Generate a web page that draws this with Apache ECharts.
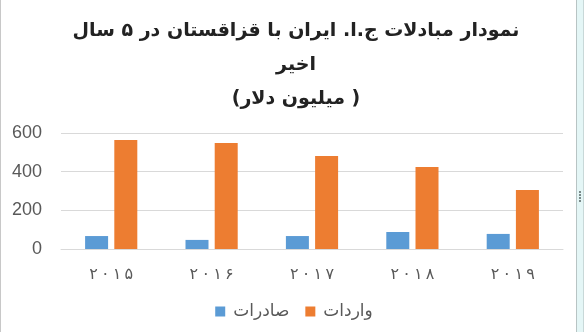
<!DOCTYPE html>
<html>
<head>
<meta charset="utf-8">
<script src="https://cdn.jsdelivr.net/npm/echarts@6/dist/echarts.min.js"></script>
<style>
html,body{margin:0;padding:0;background:#fff;}
#chart{position:absolute;left:0;top:0;width:588px;height:332px;}
#lb{position:absolute;left:0;top:0;width:1px;height:332px;background:#c8c8c8;}
#rb{position:absolute;left:576px;top:0;width:1px;height:332px;background:#b8c4c4;}
#rs{position:absolute;left:577px;top:0;width:6px;height:332px;background:#e4f6f6;}
#rs2{position:absolute;left:583px;top:0;width:1px;height:332px;background:#c8d8d8;}
.dot{position:absolute;left:579px;width:2px;height:2px;background:#7a8a8a;}
</style>
</head>
<body>
<div id="chart"></div>
<div id="lb"></div><div id="rb"></div><div id="rs"></div><div id="rs2"></div>
<div class="dot" style="top:191px"></div><div class="dot" style="top:194px"></div><div class="dot" style="top:197px"></div><div class="dot" style="top:200px"></div>
<script>
var titleLines = ['نمودار مبادلات ج.ا. ایران با قزاقستان در ۵ سال', 'اخیر', '(میلیون دلار )'];
var categories = ['۲۰۱۵', '۲۰۱۶', '۲۰۱۷', '۲۰۱۸', '۲۰۱۹'];
var seriesNames = ['صادرات', 'واردات'];
var exportsData = [67, 47, 67, 88, 78];
var importsData = [564, 548, 481, 424, 305];
var yTicks = {min: 0, max: 600, interval: 200};

var chart = echarts.init(document.getElementById('chart'));
chart.setOption({
  animation: false,
  title: {
    text: titleLines.join('\n'),
    left: 291, top: 9, textAlign: 'center',
    textStyle: {fontFamily: 'DejaVu Sans', fontWeight: 'bold', fontSize: 19, lineHeight: 34, color: '#222'}
  },
  legend: {
    data: seriesNames,
    bottom: 7, left: 'center',
    itemWidth: 10, itemHeight: 10, itemGap: 16,
    icon: 'rect',
    textStyle: {fontFamily: 'DejaVu Sans', fontSize: 17, color: '#595959', padding: [0, 0, 0, 3]}
  },
  grid: {left: 61, right: 25, top: 133, bottom: 83},
  xAxis: {
    type: 'category', data: categories,
    axisLine: {lineStyle: {color: '#d9d9d9'}},
    axisTick: {show: false},
    axisLabel: {
      margin: 18, fontFamily: 'DejaVu Sans', fontSize: 16, color: '#595959',
      formatter: function (v) { return v.split('').join('\u2009'); }
    }
  },
  yAxis: {
    type: 'value', min: yTicks.min, max: yTicks.max, interval: yTicks.interval,
    axisLine: {show: false}, axisTick: {show: false},
    splitLine: {lineStyle: {color: '#d9d9d9'}},
    axisLabel: {margin: 19, fontFamily: 'Liberation Sans', fontSize: 18, color: '#595959'}
  },
  series: [
    {name: seriesNames[0], type: 'bar', data: exportsData, barWidth: 23, barGap: '27%', itemStyle: {color: '#5b9bd5'}},
    {name: seriesNames[1], type: 'bar', data: importsData, barWidth: 23, barGap: '27%', itemStyle: {color: '#ed7d31'}}
  ]
});
</script>
</body>
</html>
